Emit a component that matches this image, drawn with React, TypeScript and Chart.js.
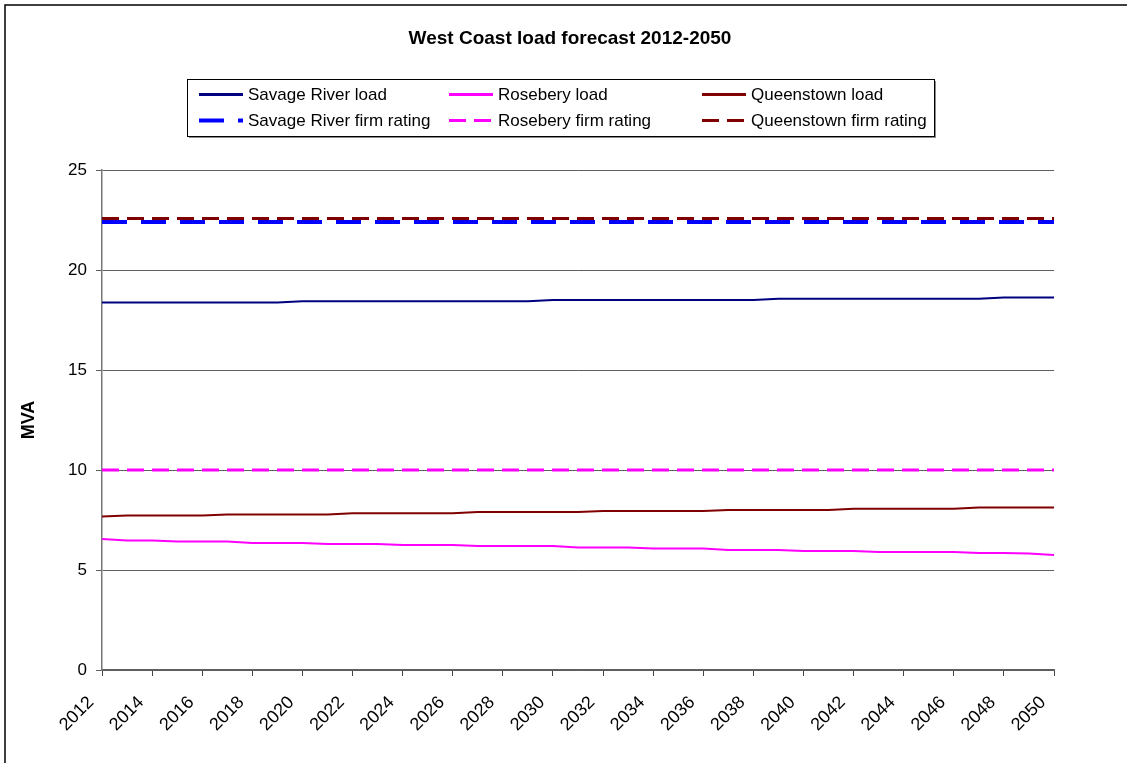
import { useEffect, useRef } from "react";
import { Chart, registerables } from "chart.js";

Chart.register(...registerables);

// Forecast years (category axis)
const years = [
  "2012", "2013", "2014", "2015", "2016", "2017", "2018", "2019", "2020", "2021",
  "2022", "2023", "2024", "2025", "2026", "2027", "2028", "2029", "2030", "2031",
  "2032", "2033", "2034", "2035", "2036", "2037", "2038", "2039", "2040", "2041",
  "2042", "2043", "2044", "2045", "2046", "2047", "2048", "2049", "2050",
];

// Load forecasts, MVA
const savageRiverLoad = [
  18.38, 18.38, 18.38, 18.38, 18.38, 18.38, 18.38, 18.38, 18.44, 18.44,
  18.44, 18.44, 18.44, 18.44, 18.44, 18.44, 18.44, 18.44, 18.5, 18.5,
  18.5, 18.5, 18.5, 18.5, 18.5, 18.5, 18.5, 18.56, 18.56, 18.56,
  18.56, 18.56, 18.56, 18.56, 18.56, 18.56, 18.62, 18.62, 18.62,
];
const roseberyLoad = [
  6.55, 6.48, 6.48, 6.42, 6.42, 6.42, 6.35, 6.35, 6.35, 6.3,
  6.3, 6.3, 6.25, 6.25, 6.25, 6.2, 6.2, 6.2, 6.2, 6.13,
  6.13, 6.13, 6.07, 6.07, 6.07, 6.0, 6.0, 6.0, 5.95, 5.95,
  5.95, 5.9, 5.9, 5.9, 5.9, 5.85, 5.85, 5.83, 5.75,
];
const queenstownLoad = [
  7.68, 7.73, 7.73, 7.73, 7.73, 7.78, 7.78, 7.78, 7.78, 7.78,
  7.84, 7.84, 7.84, 7.84, 7.84, 7.9, 7.9, 7.9, 7.9, 7.9,
  7.95, 7.95, 7.95, 7.95, 7.95, 8.0, 8.0, 8.0, 8.0, 8.0,
  8.06, 8.06, 8.06, 8.06, 8.06, 8.12, 8.12, 8.12, 8.12,
];

// Firm ratings, MVA
const savageRiverFirm = [
  22.4, 22.4, 22.4, 22.4, 22.4, 22.4, 22.4, 22.4, 22.4, 22.4,
  22.4, 22.4, 22.4, 22.4, 22.4, 22.4, 22.4, 22.4, 22.4, 22.4,
  22.4, 22.4, 22.4, 22.4, 22.4, 22.4, 22.4, 22.4, 22.4, 22.4,
  22.4, 22.4, 22.4, 22.4, 22.4, 22.4, 22.4, 22.4, 22.4,
];
const roseberyFirm = [
  10, 10, 10, 10, 10, 10, 10, 10, 10, 10,
  10, 10, 10, 10, 10, 10, 10, 10, 10, 10,
  10, 10, 10, 10, 10, 10, 10, 10, 10, 10,
  10, 10, 10, 10, 10, 10, 10, 10, 10,
];
const queenstownFirm = [
  22.57, 22.57, 22.57, 22.57, 22.57, 22.57, 22.57, 22.57, 22.57, 22.57,
  22.57, 22.57, 22.57, 22.57, 22.57, 22.57, 22.57, 22.57, 22.57, 22.57,
  22.57, 22.57, 22.57, 22.57, 22.57, 22.57, 22.57, 22.57, 22.57, 22.57,
  22.57, 22.57, 22.57, 22.57, 22.57, 22.57, 22.57, 22.57, 22.57,
];

const seriesNames = [
  "Savage River load",
  "Rosebery load",
  "Queenstown load",
  "Savage River firm rating",
  "Rosebery firm rating",
  "Queenstown firm rating",
];

const chartTitle = "West Coast load forecast 2012-2050";
const yAxisTitle = "MVA";
const yMin = 0;
const yMax = 25;
const yStep = 5;

const FONT = '"Liberation Sans", Arial, Helvetica, sans-serif';

// Draws the frame, title, boxed three-column legend and the y-axis title
const decorations = {
  id: "decorations",
  beforeDraw(chart: any) {
    const { ctx, width, height } = chart;
    ctx.save();
    ctx.fillStyle = "#ffffff";
    ctx.fillRect(0, 0, width, height);
    ctx.strokeStyle = "#000000";
    ctx.lineWidth = 1.5;
    ctx.strokeRect(5, 5, width + 10, height + 10);
    ctx.restore();
  },
  afterDraw(chart: any) {
    const { ctx } = chart;
    ctx.save();

    // title
    ctx.fillStyle = "#000";
    ctx.font = `bold 19px ${FONT}`;
    ctx.textAlign = "center";
    ctx.textBaseline = "middle";
    ctx.fillText(chartTitle, 570, 39);

    // legend box with a light drop shadow
    const bx = 187, by = 79, bw = 747, bh = 57;
    ctx.fillStyle = "#8c8c8c";
    ctx.fillRect(bx + 2, by + 2, bw, bh);
    ctx.fillStyle = "#ffffff";
    ctx.fillRect(bx, by, bw, bh);
    ctx.strokeStyle = "#000";
    ctx.lineWidth = 1;
    ctx.strokeRect(bx + 0.5, by + 0.5, bw, bh);

    const colX = [199, 449, 702];
    const rowY = [94.5, 120.5];
    const lineLen = 44;
    ctx.font = `17px ${FONT}`;
    ctx.textAlign = "left";
    ctx.textBaseline = "middle";
    chart.data.datasets.forEach((ds: any, i: number) => {
      const x = colX[i % 3];
      const y = rowY[Math.floor(i / 3)];
      ctx.save();
      ctx.beginPath();
      ctx.rect(x, y - 5, lineLen, 10);
      ctx.clip();
      ctx.strokeStyle = ds.borderColor;
      ctx.lineWidth = ds.legendWidth;
      ctx.setLineDash(ds.borderDash || []);
      ctx.beginPath();
      ctx.moveTo(x, y);
      ctx.lineTo(x + lineLen + 20, y);
      ctx.stroke();
      ctx.restore();
      ctx.fillStyle = "#000";
      ctx.fillText(ds.label, x + lineLen + 5, y + 1);
    });

    // y-axis title
    const area = chart.chartArea;
    ctx.translate(29, (area.top + area.bottom) / 2);
    ctx.rotate(-Math.PI / 2);
    ctx.font = `bold 18px ${FONT}`;
    ctx.textAlign = "center";
    ctx.textBaseline = "middle";
    ctx.fillStyle = "#000";
    ctx.fillText(yAxisTitle, 0, 0);
    ctx.restore();
  },
};

export default function App() {
  const canvasRef = useRef<HTMLCanvasElement | null>(null);

  useEffect(() => {
    const canvas = canvasRef.current;
    if (!canvas) return;

    const line = (
      label: string,
      data: number[],
      color: string,
      width: number,
      legendWidth: number,
      dash?: number[]
    ) => ({
      label,
      data,
      borderColor: color,
      backgroundColor: color,
      borderWidth: width,
      legendWidth,
      borderDash: dash,
      pointRadius: 0,
      pointHoverRadius: 0,
      tension: 0,
      fill: false,
      borderCapStyle: "butt",
    });

    const chart = new Chart(canvas, {
      type: "line",
      data: {
        labels: years,
        datasets: [
          line(seriesNames[0], savageRiverLoad, "#000080", 2, 3),
          line(seriesNames[1], roseberyLoad, "#ff00ff", 2, 3),
          line(seriesNames[2], queenstownLoad, "#800000", 2, 3),
          line(seriesNames[3], savageRiverFirm, "#0000ff", 4, 4, [25, 14]),
          line(seriesNames[4], roseberyFirm, "#ff00ff", 3, 3, [17, 8]),
          line(seriesNames[5], queenstownFirm, "#800000", 3, 3, [17, 8]),
        ] as any,
      },
      options: {
        animation: false,
        responsive: false,
        maintainAspectRatio: false,
        events: [],
        layout: { padding: { left: 42, top: 170, right: 73, bottom: 0 } },
        plugins: {
          legend: { display: false },
          title: { display: false },
          tooltip: { enabled: false },
        },
        scales: {
          x: {
            type: "category",
            offset: false,
            afterFit: (scale: any) => {
              scale.height = 93;
            },
            grid: {
              display: true,
              drawOnChartArea: false,
              drawTicks: true,
              tickLength: 6,
              color: "#444",
              lineWidth: 1,
            },
            border: { display: true, color: "#5f5f5f", width: 1.5 },
            ticks: {
              autoSkip: false,
              minRotation: 45,
              maxRotation: 45,
              padding: 16,
              labelOffset: -11,
              color: "#000",
              font: { family: FONT, size: 18 },
              callback: (_v: any, idx: number) =>
                idx % 2 === 0 ? years[idx] : null,
            },
          },
          y: {
            min: yMin,
            max: yMax,
            afterFit: (scale: any) => {
              scale.width = 60;
            },
            grid: {
              color: "#5f5f5f",
              lineWidth: 1,
              tickLength: 6,
            },
            border: { display: true, color: "#777", width: 1.5 },
            ticks: {
              stepSize: yStep,
              padding: 9,
              color: "#000",
              font: { family: FONT, size: 17 },
            },
          },
        },
      } as any,
      plugins: [decorations],
    });

    return () => chart.destroy();
  }, []);

  return (
    <div
      style={{
        position: "absolute",
        left: 0,
        top: 0,
        width: 1127,
        height: 763,
        background: "#fff",
        overflow: "hidden",
      }}
    >
      <canvas
        ref={canvasRef}
        width={1127}
        height={763}
        style={{ display: "block", width: 1127, height: 763 }}
      />
    </div>
  );
}
